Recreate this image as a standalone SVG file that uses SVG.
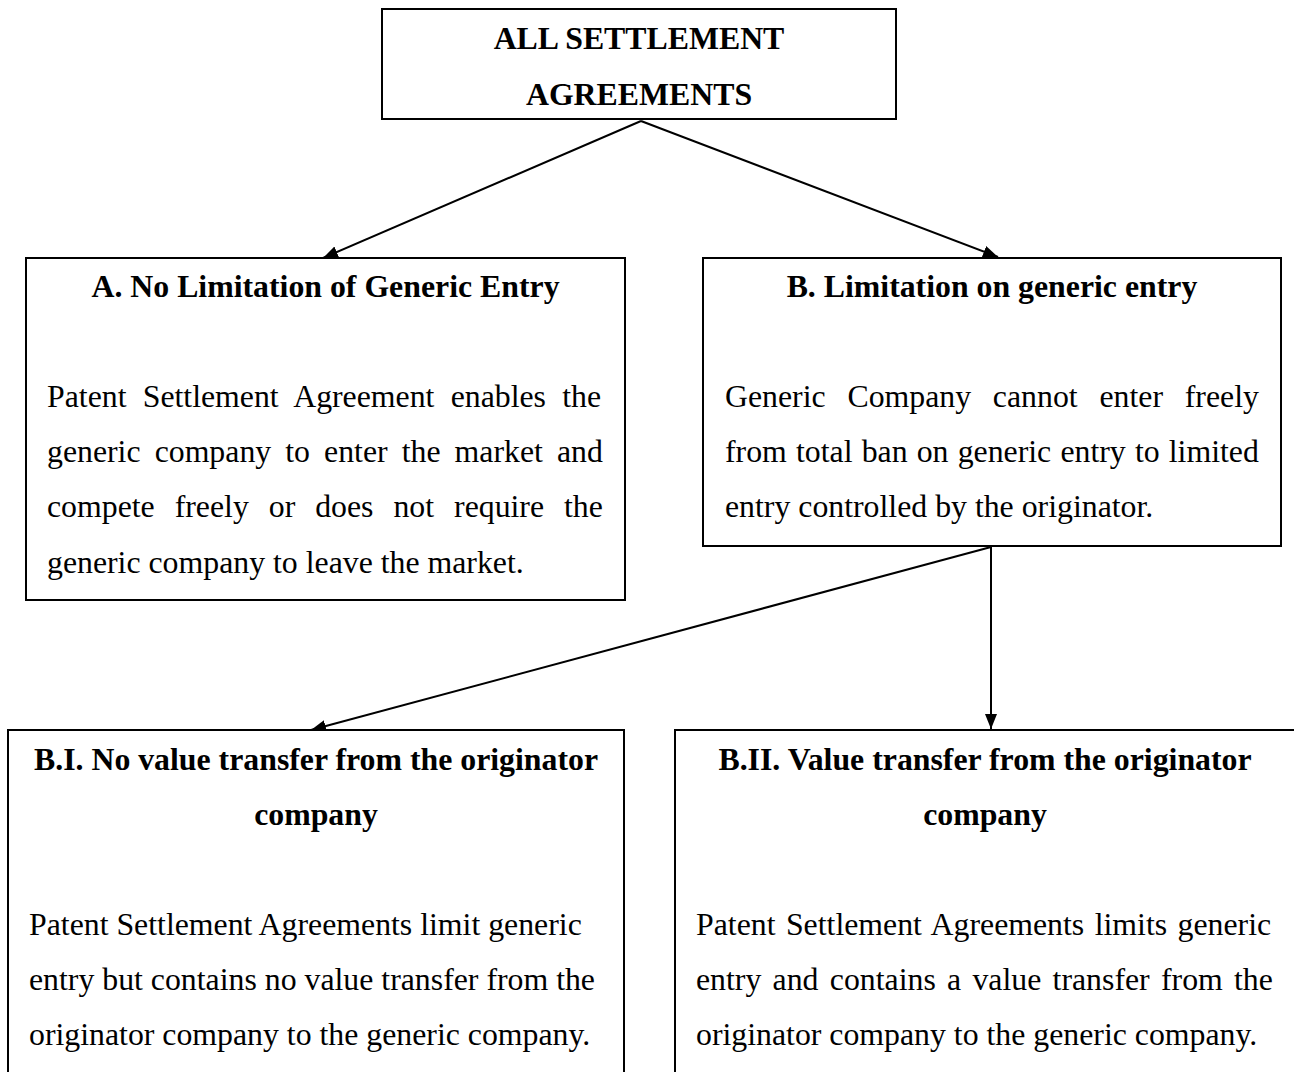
<svg xmlns="http://www.w3.org/2000/svg" width="1294" height="1072" viewBox="0 0 1294 1072">
<style>
.box{fill:#fff;stroke:#000;stroke-width:2}
.h{font-family:"Liberation Serif","Times New Roman",serif;font-weight:bold;font-size:31.8px;text-anchor:middle;fill:#000}
.b{font-family:"Liberation Serif","Times New Roman",serif;font-size:31.8px;fill:#000}
.c{stroke:#000;stroke-width:2;fill:none}
</style>
<defs>
<marker id="ah" markerUnits="userSpaceOnUse" markerWidth="16" markerHeight="14" refX="15" refY="6" orient="auto">
<path d="M0,0 L15,6 L0,12 Z" fill="#000"/>
</marker>
</defs>
<rect width="1294" height="1072" fill="#fff"/>
<g id="connectors">
<line class="c" x1="641" y1="121" x2="323" y2="258" marker-end="url(#ah)"/>
<line class="c" x1="641" y1="121" x2="998" y2="257" marker-end="url(#ah)"/>
<line class="c" x1="991" y1="547" x2="311" y2="730" marker-end="url(#ah)"/>
<line class="c" x1="991" y1="547" x2="991" y2="729" stroke-width="1.5" marker-end="url(#ah)"/>
</g>
<g id="node-all">
<rect class="box" x="382" y="9" width="514" height="110"/>
<text class="h" x="639" y="49">ALL SETTLEMENT</text>
<text class="h" x="639" y="105">AGREEMENTS</text>
</g>
<g id="node-a">
<rect class="box" x="26" y="258" width="599" height="342"/>
<text class="h" x="325.5" y="297">A. No Limitation of Generic Entry</text>
<text class="b" x="47" y="407" word-spacing="8.28">Patent Settlement Agreement enables the</text>
<text class="b" x="47" y="462" word-spacing="6.12">generic company to enter the market and</text>
<text class="b" x="47" y="517" word-spacing="12.01">compete freely or does not require the</text>
<text class="b" x="47" y="573">generic company to leave the market.</text>
</g>
<g id="node-b">
<rect class="box" x="703" y="258" width="578" height="288"/>
<text class="h" x="992" y="297">B. Limitation on generic entry</text>
<text class="b" x="725" y="407" word-spacing="13.85">Generic Company cannot enter freely</text>
<text class="b" x="725" y="462" word-spacing="1.21">from total ban on generic entry to limited</text>
<text class="b" x="725" y="517">entry controlled by the originator.</text>
</g>
<g id="node-bi">
<rect class="box" x="8" y="730" width="616" height="360"/>
<text class="h" x="316" y="770">B.I. No value transfer from the originator</text>
<text class="h" x="316" y="825">company</text>
<text class="b" x="29" y="935">Patent Settlement Agreements limit generic</text>
<text class="b" x="29" y="990">entry but contains no value transfer from the</text>
<text class="b" x="29" y="1045">originator company to the generic company.</text>
</g>
<g id="node-bii">
<rect class="box" x="675" y="730" width="622" height="360"/>
<text class="h" x="985" y="770">B.II. Value transfer from the originator</text>
<text class="h" x="985" y="825">company</text>
<text class="b" x="696" y="935" word-spacing="2.49">Patent Settlement Agreements limits generic</text>
<text class="b" x="696" y="990" word-spacing="3.33">entry and contains a value transfer from the</text>
<text class="b" x="696" y="1045">originator company to the generic company.</text>
</g>
</svg>
